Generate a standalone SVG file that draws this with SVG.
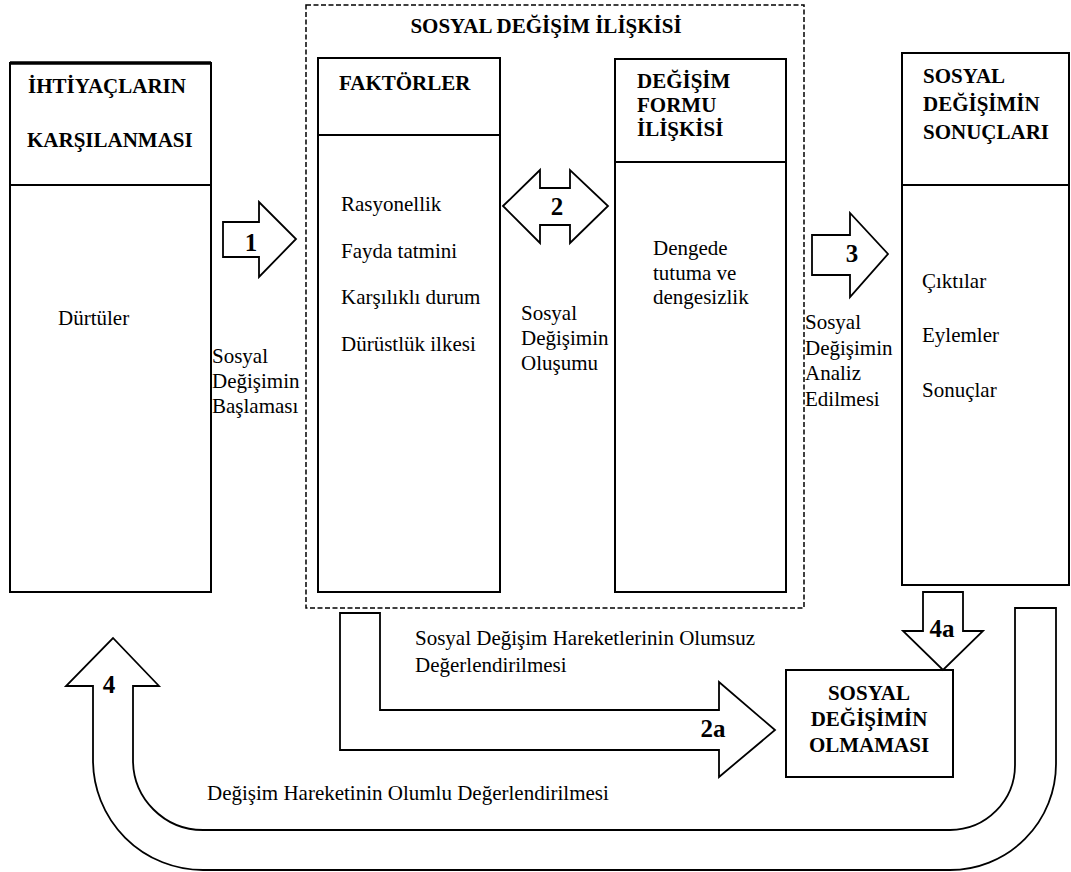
<svg xmlns="http://www.w3.org/2000/svg" width="1071" height="872" viewBox="0 0 1071 872">
<style>
.box{fill:#fff;stroke:#000;stroke-width:2}
.arr{fill:#fff;stroke:#000;stroke-width:1.8;stroke-linejoin:miter}
text{font-family:'Liberation Serif','DejaVu Serif',serif;fill:#000}
.t{font-size:21px}
.b{font-size:21px;font-weight:bold}
.n{font-size:25px;font-weight:bold}
</style>
<rect width="1071" height="872" fill="#fff"/>
<g id="group-sosyal-degisim-iliskisi">
<rect x="306" y="5" width="498" height="603" fill="none" stroke="#000" stroke-width="1.5" stroke-dasharray="5,2.5"/>
<text class="b" x="546" y="33" text-anchor="middle">SOSYAL DEĞİŞİM İLİŞKİSİ</text>
</g>
<g id="node-ihtiyaclar">
<rect class="box" x="10" y="63" width="201" height="529"/>
<line x1="10" y1="63" x2="211" y2="63" stroke="#000" stroke-width="3.5"/>
<line x1="10" y1="185" x2="211" y2="185" stroke="#000" stroke-width="2"/>
<text class="b" x="28" y="93">İHTİYAÇLARIN</text>
<text class="b" x="27" y="147">KARŞILANMASI</text>
<text class="t" x="58" y="325">Dürtüler</text>
</g>
<g id="node-faktorler">
<rect class="box" x="318" y="58" width="182" height="534"/>
<line x1="318" y1="135" x2="500" y2="135" stroke="#000" stroke-width="2"/>
<text class="b" x="339" y="90">FAKTÖRLER</text>
<text class="t" x="341" y="211">Rasyonellik</text>
<text class="t" x="341" y="258">Fayda tatmini</text>
<text class="t" x="341" y="304">Karşılıklı durum</text>
<text class="t" x="341" y="351">Dürüstlük ilkesi</text>
</g>
<g id="node-degisim-formu">
<rect class="box" x="615" y="59" width="171" height="533"/>
<line x1="615" y1="162" x2="786" y2="162" stroke="#000" stroke-width="2"/>
<text class="b" x="637" y="88">DEĞİŞİM</text>
<text class="b" x="637" y="112">FORMU</text>
<text class="b" x="637" y="136">İLİŞKİSİ</text>
<text class="t" x="653" y="255">Dengede</text>
<text class="t" x="653" y="280">tutuma ve</text>
<text class="t" x="653" y="304">dengesizlik</text>
</g>
<g id="node-sonuclar">
<rect class="box" x="902" y="53" width="167" height="532"/>
<line x1="902" y1="185" x2="1069" y2="185" stroke="#000" stroke-width="2"/>
<text class="b" x="923" y="83">SOSYAL</text>
<text class="b" x="923" y="111">DEĞİŞİMİN</text>
<text class="b" x="923" y="139">SONUÇLARI</text>
<text class="t" x="922" y="288">Çıktılar</text>
<text class="t" x="922" y="342">Eylemler</text>
<text class="t" x="922" y="397">Sonuçlar</text>
</g>
<g id="node-olmamasi">
<rect class="box" x="786" y="670" width="167" height="107"/>
<text class="b" x="869" y="700" text-anchor="middle">SOSYAL</text>
<text class="b" x="869" y="726" text-anchor="middle">DEĞİŞİMİN</text>
<text class="b" x="869" y="752" text-anchor="middle">OLMAMASI</text>
</g>
<g id="connectors">
<path class="arr" d="M223,222 L259,222 L259,202 L296,239 L259,277 L259,257 L223,257 Z"/>
<text class="n" x="251" y="251" text-anchor="middle">1</text>
<path class="arr" d="M503,206 L540,170 L540,188 L570,188 L570,170 L608,206 L570,243 L570,225 L540,225 L540,243 Z"/>
<text class="n" x="557" y="215" text-anchor="middle">2</text>
<path class="arr" d="M812,235 L850,235 L850,213 L888,254 L850,297 L850,275 L812,275 Z"/>
<text class="n" x="852" y="262" text-anchor="middle">3</text>
<path class="arr" d="M923,592 L963,592 L963,631 L983,631 L943,670 L903,631 L923,631 Z"/>
<text class="n" x="942" y="637" text-anchor="middle">4a</text>
<path class="arr" d="M340,613 L380,613 L380,710 L719,710 L719,682 L775,730 L719,777 L719,750 L340,750 Z"/>
<text class="n" x="713" y="737" text-anchor="middle">2a</text>
<path class="arr" d="M1015,608 L1056,608 L1056,764 A106,106 0 0 1 950,870 L203,870 A110,110 0 0 1 93,760 L93,686 L66,686 L113,638 L159,686 L133,686 L133,760 A70,70 0 0 0 203,830 L950,830 A65,65 0 0 0 1015,765 Z"/>
<text class="n" x="109" y="693" text-anchor="middle">4</text>
<text class="t" x="212" y="363">Sosyal</text>
<text class="t" x="212" y="388">Değişimin</text>
<text class="t" x="212" y="413">Başlaması</text>
<text class="t" x="521" y="320">Sosyal</text>
<text class="t" x="521" y="345">Değişimin</text>
<text class="t" x="521" y="370">Oluşumu</text>
<text class="t" x="805" y="329">Sosyal</text>
<text class="t" x="805" y="355">Değişimin</text>
<text class="t" x="805" y="380">Analiz</text>
<text class="t" x="805" y="406">Edilmesi</text>
<text class="t" x="415" y="645">Sosyal Değişim Hareketlerinin Olumsuz</text>
<text class="t" x="415" y="672">Değerlendirilmesi</text>
<text class="t" x="207" y="800">Değişim Hareketinin Olumlu Değerlendirilmesi</text>
</g>
</svg>
